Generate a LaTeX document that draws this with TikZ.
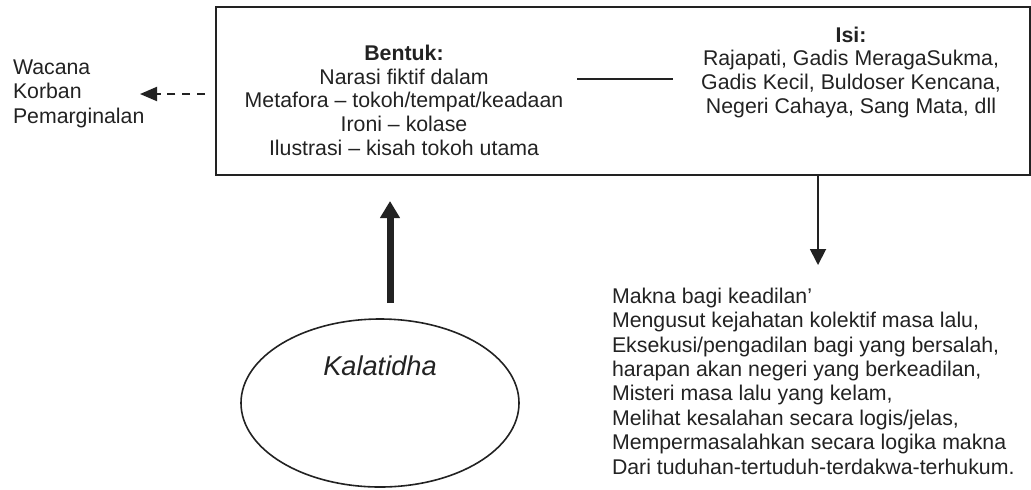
\documentclass[tikz,border=0pt]{standalone}
\usepackage{fontspec}
\setmainfont{Liberation Sans}
\usetikzlibrary{arrows.meta,shapes.geometric}
\definecolor{ink}{HTML}{222222}
\begin{document}
\begin{tikzpicture}[x=0.5pt,y=-0.5pt,
  every node/.style={text=ink, inner sep=0pt, outer sep=0pt},
  boxtxt/.style={font=\fontsize{10.65}{11.8}\selectfont, align=center},
  sidetxt/.style={font=\fontsize{10.65}{12.1}\selectfont, align=left},
  conn/.style={draw=ink, line width=1pt},
  frame/.style={draw=ink, line width=1pt, rectangle},
  oval/.style={draw=ink, line width=0.8pt, ellipse},
]
\useasboundingbox (0,0) rectangle (1031,489);

% main box
\node[frame, minimum width=407pt, minimum height=84pt] (box) at (623,91) {};

% texts inside the box (base anchor = baseline of the last line)
\node[boxtxt, anchor=base] (bentuk) at (404,155)
  {\textbf{Bentuk:}\\Narasi fiktif dalam\\Metafora – tokoh/tempat/keadaan\\Ironi – kolase\\Ilustrasi – kisah tokoh utama};
\node[boxtxt, anchor=base] (isi) at (851,113)
  {\textbf{Isi:}\\Rajapati, Gadis MeragaSukma,\\Gadis Kecil, Buldoser Kencana,\\Negeri Cahaya, Sang Mata, dll};

% link line between the two columns
\coordinate (linkA) at (577,79);
\coordinate (linkB) at (673,79);
\draw[conn] (linkA) -- (linkB);

% left text
\node[sidetxt, anchor=base west] (wacana) at (13,123) {Wacana\\Korban\\Pemarginalan};
\coordinate (dashStart) at (205,94);
\coordinate (dashTip) at (140,94);
\draw[conn, dash pattern=on 4pt off 3.4pt, -{Triangle[length=8.5pt,width=7pt]}] (dashStart) -- (dashTip);

% bottom-right text
\node[font=\fontsize{10.65}{12.2}\selectfont, align=left, anchor=base west] (makna) at (612,474)
  {Makna bagi keadilan’\\
   Mengusut kejahatan kolektif masa lalu,\\
   Eksekusi/pengadilan bagi yang bersalah,\\
   harapan akan negeri yang berkeadilan,\\
   Misteri masa lalu yang kelam,\\
   Melihat kesalahan secara logis/jelas,\\
   Mempermasalahkan secara logika makna\\
   Dari tuduhan-tertuduh-terdakwa-terhukum.};

% down arrow
\coordinate (downX) at (818,0);
\coordinate (downTip) at (818,265);
\draw[draw=ink, line width=0.9pt, -{Triangle[length=8pt,width=8pt]}] (box.south -| downX) -- (downTip);

% ellipse
\node[oval, minimum width=139pt, minimum height=84pt] (ell) at (380,403) {};
\node[font=\fontsize{13.6}{15}\selectfont\itshape, anchor=base] (kal) at (380,375) {Kalatidha};

% thick up arrow
\coordinate (upStart) at (390,303);
\coordinate (upTip) at (390,201);
\draw[draw=ink, line width=3.5pt, -{Triangle[length=8.5pt,width=9.5pt]}] (upStart) -- (upTip);
\end{tikzpicture}
\end{document}
